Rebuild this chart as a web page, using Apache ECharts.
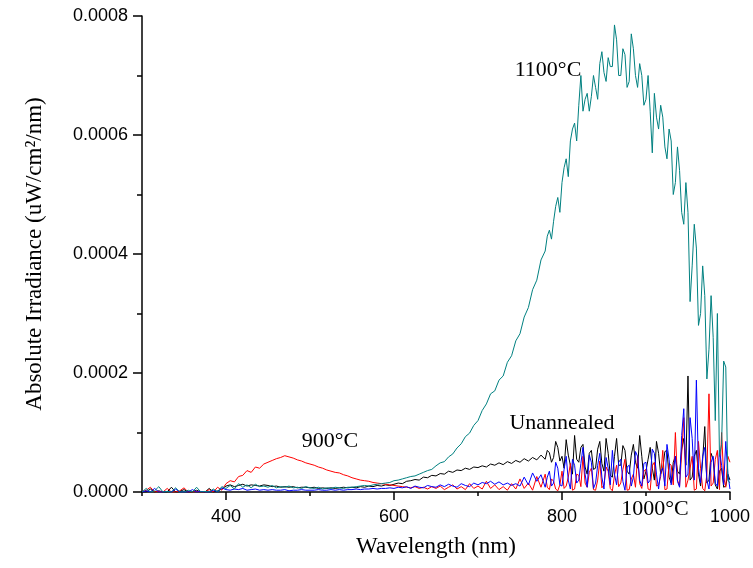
<!DOCTYPE html>
<html><head><meta charset="utf-8">
<script src="https://cdn.jsdelivr.net/npm/echarts@6/dist/echarts.min.js"></script>
<style>html,body{margin:0;padding:0;background:#fff}#c{width:753px;height:568px}</style>
</head><body><div id="c"></div>
<script>
// Wavelength sampling segments (nm): 5 nm steps up to 775, 2.5 nm steps from 780 to 1000
const wlSegments = [{start: 300, end: 775, step: 5}, {start: 780, end: 1000, step: 2.5}];
// Values in units of 1e-6 uW/cm^2/nm
const unannealed = [
  0,0,5,0,2,0,0,8,0,1,4,0,0,3,0,0,6,0,2,5,
  10,12,9,11,13,10,12,11,10,12,
  11,9,10,8,9,8,9,7,8,8,
  7,8,6,7,6,7,6,7,8,7,
  8,7,9,8,10,9,11,10,12,11,
  13,15,14,18,19,21,20,25,24,28,
  27,31,30,35,33,37,36,40,38,42,
  41,44,42,47,45,49,46,51,48,53,
  50,56,52,58,54,62,
  55,70,66,50,58,85,75,52,
  60,40,88,62,45,30,95,55,
  50,75,80,42,30,65,70,38,
  40,72,85,48,35,90,65,28,
  25,60,90,45,45,78,70,35,
  30,62,80,50,40,95,60,22,
  35,55,75,40,20,85,65,30,
  40,68,70,25,15,50,60,35,
  30,72,90,45,195,20,25,60,
  70,30,10,55,110,15,20,65,
  55,12,5,35,40,8,10,30,
  20
];
const t900 = [
  0,3,8,0,1,0,6,0,0,2,7,0,0,1,0,0,4,0,8,3,
  14,19,17,26,28,36,33,42,40,47,
  50,53,56,58,61,59,57,54,52,49,
  47,45,42,40,37,35,33,32,29,27,
  24,22,20,19,18,16,15,14,13,12,
  11,10,9,8,7,9,6,8,5,9,
  6,10,4,8,12,5,9,4,14,6,
  10,5,18,6,12,4,9,3,14,5,
  22,6,15,3,26,8,
  30,8,4,22,18,5,2,12,
  35,6,10,25,48,3,5,30,
  28,9,60,15,8,33,40,4,
  3,20,52,7,12,42,35,6,
  2,28,45,9,15,38,55,3,
  4,22,30,8,60,14,6,35,
  38,5,3,44,50,10,12,26,
  70,4,5,48,45,12,100,20,
  10,65,125,8,20,40,60,3,
  5,85,40,6,2,30,165,10,
  15,55,70,4,100,25,8,60,
  50
];
const t1000 = [
  0,2,0,6,0,0,1,0,5,0,0,0,4,0,1,0,0,3,0,7,
  4,3,5,4,6,3,4,5,3,4,
  3,4,3,3,4,2,3,3,4,3,
  3,3,4,3,3,4,3,4,3,4,
  4,5,4,5,5,6,5,6,6,7,
  6,8,7,9,6,10,8,7,11,9,
  8,12,9,13,10,8,14,11,9,15,
  12,16,14,18,13,17,12,15,11,14,
  10,25,12,32,18,29,
  8,25,35,10,15,50,40,12,
  10,38,60,20,5,55,45,15,
  20,48,75,30,8,62,50,6,
  15,45,65,25,5,58,40,12,
  70,30,12,50,55,18,3,42,
  45,10,25,68,60,20,10,48,
  50,15,20,72,65,30,5,35,
  40,10,80,55,12,35,60,18,
  8,95,140,25,30,125,90,20,
  188,40,15,60,75,20,5,50,
  60,15,10,70,45,12,85,30,
  5
];
const t1100 = [
  0,6,0,2,9,0,1,0,7,0,0,3,0,8,0,1,0,5,0,9,
  6,11,5,14,8,12,7,13,9,10,
  8,11,7,9,8,10,7,8,6,9,
  7,6,8,5,7,6,8,7,6,8,
  8,9,10,11,10,12,13,14,15,16,
  19,20,22,24,26,27,30,33,36,38,
  44,49,51,59,64,74,81,93,99,112,
  120,137,148,165,170,188,195,218,229,254,
  266,294,310,340,356,390,
  405,430,440,425,455,480,495,470,
  520,545,560,530,590,610,620,590,
  650,700,640,660,670,640,665,700,
  680,660,720,740,705,690,730,715,
  715,785,760,700,700,745,735,680,
  690,770,745,700,680,720,700,650,
  660,700,640,570,670,630,610,650,
  630,580,560,610,590,500,520,580,
  540,470,450,520,470,320,380,450,
  410,280,300,380,330,190,240,330,
  260,120,300,60,80,220,210,20,
  15
];
const xMajorTicks = [400, 600, 800, 1000];
const xMinorTicks = [300, 500, 700, 900];
const unit = 1e-6;

const wavelengths = [];
wlSegments.forEach(s => { for (let w = s.start; w <= s.end + 1e-9; w += s.step) wavelengths.push(w); });
const toData = arr => arr.map((v, i) => [wavelengths[i], v * unit]);

const serif = '"Liberation Serif", "Times New Roman", serif';
const sans = '"Liberation Sans", Arial, sans-serif';

const chart = echarts.init(document.getElementById('c'), null, {renderer: 'canvas'});
const lineSeries = (name, arr, color) => ({
  name, type: 'line', data: toData(arr), showSymbol: false, symbol: 'none',
  lineStyle: {color, width: 1}, itemStyle: {color}, animation: false, silent: true
});
chart.setOption({
  animation: false,
  backgroundColor: '#fff',
  grid: {left: 142, right: 23, top: 16, bottom: 76},
  xAxis: [{
    type: 'value', min: 300, max: 1000,
    axisLine: {lineStyle: {color: '#000', width: 1.5}},
    axisTick: {customValues: xMajorTicks, length: 8, lineStyle: {color: '#000', width: 1.5}},
    axisLabel: {customValues: xMajorTicks, color: '#000', fontFamily: sans, fontSize: 18, margin: 16,
      formatter: v => String(v)},
    splitLine: {show: false},
    name: 'Wavelength (nm)', nameLocation: 'middle', nameGap: 43,
    nameTextStyle: {fontFamily: serif, fontSize: 23, color: '#000'}
  }, {
    type: 'value', min: 300, max: 1000, position: 'bottom',
    axisLine: {show: false},
    axisTick: {customValues: xMinorTicks, length: 4, lineStyle: {color: '#000', width: 1.5}},
    axisLabel: {show: false},
    splitLine: {show: false}
  }],
  yAxis: {
    type: 'value', min: 0, max: 0.0008, interval: 0.0002,
    axisLine: {show: true, lineStyle: {color: '#000', width: 1.5}},
    axisTick: {show: true, length: 9, lineStyle: {color: '#000', width: 1.5}},
    minorTick: {show: true, splitNumber: 2, length: 5, lineStyle: {color: '#000', width: 1.5}},
    minorSplitLine: {show: false},
    splitLine: {show: false},
    axisLabel: {color: '#000', fontFamily: sans, fontSize: 18, margin: 14,
      formatter: v => v.toFixed(4)},
    name: 'Absolute Irradiance (uW/cm\u00B2/nm)', nameLocation: 'middle', nameGap: 96,
    nameTextStyle: {fontFamily: serif, fontSize: 23, color: '#000'}
  },
  series: [
    lineSeries('Unannealed', unannealed, '#000000'),
    lineSeries('900°C', t900, '#ff0000'),
    lineSeries('1000°C', t1000, '#0000ff'),
    lineSeries('1100°C', t1100, '#008080')
  ],
  graphic: [
    {type: 'text', x: 548, y: 70, style: {text: '1100°C', font: '22px ' + serif, fill: '#000', align: 'center', verticalAlign: 'middle'}},
    {type: 'text', x: 330, y: 441, style: {text: '900°C', font: '22px ' + serif, fill: '#000', align: 'center', verticalAlign: 'middle'}},
    {type: 'text', x: 562, y: 423, style: {text: 'Unannealed', font: '22px ' + serif, fill: '#000', align: 'center', verticalAlign: 'middle'}},
    {type: 'text', x: 655, y: 509, style: {text: '1000°C', font: '22px ' + serif, fill: '#000', align: 'center', verticalAlign: 'middle'}}
  ]
});
</script>
</body></html>
